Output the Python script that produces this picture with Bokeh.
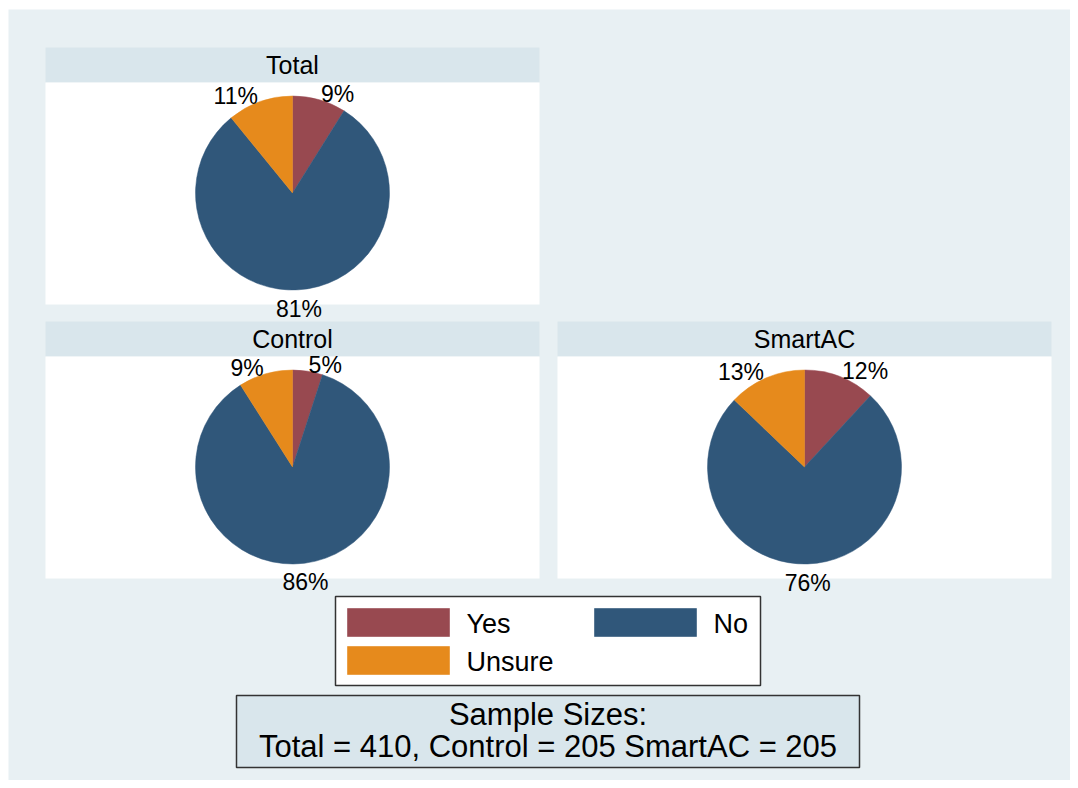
import numpy as np
from bokeh.plotting import figure
from bokeh.models import Range1d, ColumnDataSource
from bokeh.embed import file_html
from bokeh.resources import INLINE
from bokeh.core.properties import value

# ---------------- data ----------------
categories = ["Yes", "No", "Unsure"]
colors = ["#984950", "#30577a", "#e68a1c"]
panel_titles = ["Total", "Control", "SmartAC"]
total_pct = [9, 81, 11]
control_pct = [5, 86, 9]
smartac_pct = [12, 76, 13]
sample_groups = ["Total", "Control", "SmartAC"]
sample_n = [410, 205, 205]

FONT = value("Liberation Sans")
BG = "#e8f0f3"
STRIP = "#d9e6ec"

W, H = 1070, 780
p = figure(width=W, height=H, output_backend="svg", toolbar_location=None,
           x_range=Range1d(0, W), y_range=Range1d(788 - H, 788),
           x_axis_location=None, y_axis_location=None, min_border=0)
p.grid.visible = False
p.outline_line_color = None
p.background_fill_color = "white"
p.border_fill_color = "white"


def Y(py):
    # picture pixel row -> data y
    return 788 - py


# outer graph region
p.quad(left=[8], right=[W + 20], top=[Y(9)], bottom=[Y(800)], fill_color=BG, line_color=None)

# ---------------- panels ----------------
panels = [
    dict(title=panel_titles[0], vals=total_pct, left=45, right=539, top=47, mid=82, bottom=304),
    dict(title=panel_titles[1], vals=control_pct, left=45, right=539, top=321, mid=356, bottom=578),
    dict(title=panel_titles[2], vals=smartac_pct, left=557, right=1051, top=321, mid=356, bottom=578),
]
R = 97

wedge = dict(x=[], y=[], s=[], e=[], c=[])
lab = dict(x=[], y=[], t=[], a=[], b=[])
for pn in panels:
    p.quad(left=[pn["left"]], right=[pn["right"]], top=[Y(pn["top"])], bottom=[Y(pn["mid"])],
           fill_color=STRIP, line_color=None)
    p.quad(left=[pn["left"]], right=[pn["right"]], top=[Y(pn["mid"])], bottom=[Y(pn["bottom"])],
           fill_color="white", line_color=None)
    cx = (pn["left"] + pn["right"]) / 2
    cy = Y((pn["mid"] + pn["bottom"]) / 2 - 0.5)
    p.text(x=[cx], y=[Y((pn["top"] + pn["mid"]) / 2)], text=[pn["title"]],
           text_font=FONT, text_font_size="25px", text_align="center",
           text_baseline="middle", text_color="black")
    v = np.array(pn["vals"], dtype=float)
    frac = v / v.sum()
    cum = np.concatenate([[0], np.cumsum(frac)])
    for i, cat in enumerate(categories):
        a0 = np.pi / 2 - 2 * np.pi * cum[i]
        a1 = np.pi / 2 - 2 * np.pi * cum[i + 1]
        wedge["x"].append(cx); wedge["y"].append(cy)
        wedge["s"].append(a0); wedge["e"].append(a1); wedge["c"].append(colors[i])
        th = 2 * np.pi * (cum[i] + cum[i + 1]) / 2  # clockwise from 12 o'clock
        rl = R + 6
        sx, cz = np.sin(th), np.cos(th)
        lab["x"].append(cx + rl * sx)
        lab["y"].append(cy + rl * cz)
        lab["t"].append(f"{pn['vals'][i]:g}%")
        if cz < -0.9:
            lab["a"].append("center"); lab["b"].append("top")
        elif sx >= 0:
            lab["a"].append("left"); lab["b"].append("middle")
        else:
            lab["a"].append("right"); lab["b"].append("middle")

p.wedge(x="x", y="y", radius=R, start_angle="s", end_angle="e", direction="clock",
        fill_color="c", line_color="c", line_width=0.5, source=ColumnDataSource(wedge))
p.text(x="x", y="y", text="t", text_align="a", text_baseline="b",
       text_font=FONT, text_font_size="23px", text_color="black",
       source=ColumnDataSource(lab))

# ---------------- legend ----------------
p.quad(left=[335], right=[760], top=[Y(596)], bottom=[Y(685)],
       fill_color="white", line_color="#333333", line_width=1.5)
leg_cols = [347, 594]
leg_rows = [608, 646]
for i, cat in enumerate(categories):
    col, row = i % 2, i // 2
    lx = leg_cols[col]
    ty = leg_rows[row]
    p.quad(left=[lx], right=[lx + 102], top=[Y(ty)], bottom=[Y(ty + 28)],
           fill_color=colors[i], line_color=colors[i], line_alpha=0.6, line_width=1)
    p.text(x=[lx + 119], y=[Y(ty + 15)], text=[cat], text_font=FONT,
           text_font_size="27px", text_align="left", text_baseline="middle",
           text_color="black")

# ---------------- note ----------------
p.quad(left=[236], right=[859], top=[Y(695)], bottom=[Y(767)],
       fill_color=STRIP, line_color="#333333", line_width=1.5)
line2 = (f"{sample_groups[0]} = {sample_n[0]}, {sample_groups[1]} = {sample_n[1]} "
         f"{sample_groups[2]} = {sample_n[2]}")
p.text(x=[547.5, 547.5], y=[Y(714), Y(746)], text=["Sample Sizes:", line2],
       text_font=FONT, text_font_size="31px", text_align="center",
       text_baseline="middle", text_color="black")

open("out.html", "w").write(file_html(p, INLINE))
